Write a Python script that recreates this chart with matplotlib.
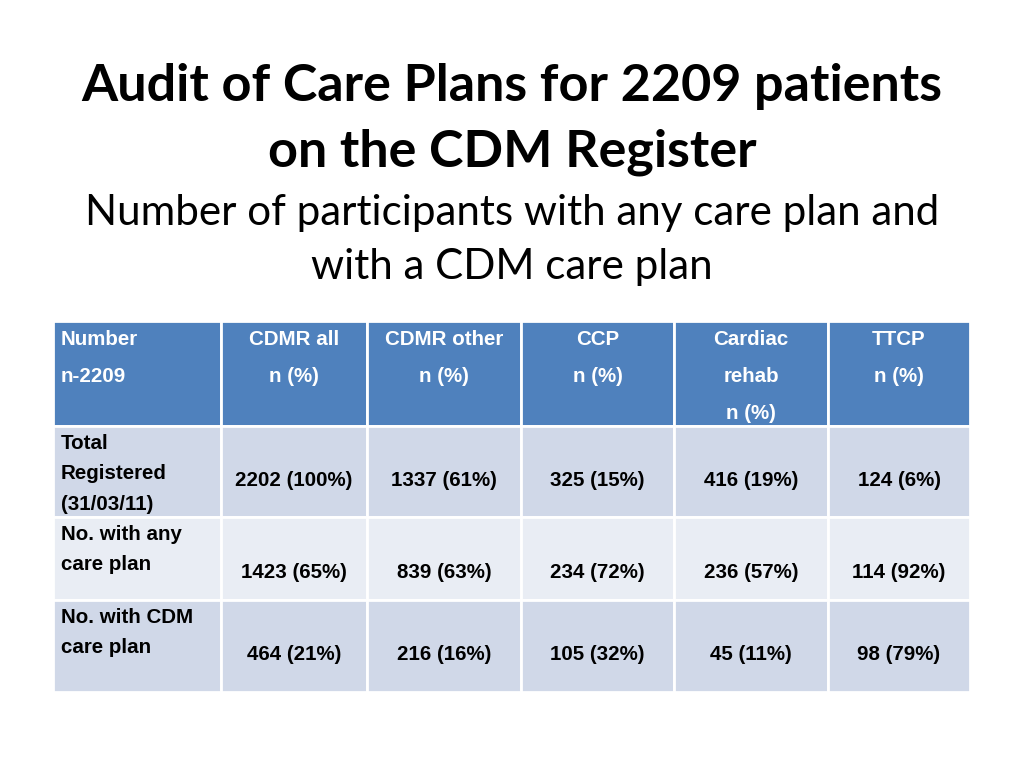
import matplotlib.pyplot as plt
from matplotlib.patches import Rectangle

title_lines = ["Audit of Care Plans for 2209 patients", "on the CDM Register"]
subtitle_lines = ["Number of participants with any care plan and", "with a CDM care plan"]

col_headers = ["Number\nn-2209", "CDMR all\nn (%)", "CDMR other\nn (%)", "CCP\nn (%)",
               "Cardiac\nrehab\nn (%)", "TTCP\nn (%)"]
row_labels = ["Total\nRegistered\n(31/03/11)", "No. with any\ncare plan", "No. with CDM\ncare plan"]
counts = [[2202, 1337, 325, 416, 124],
          [1423, 839, 234, 236, 114],
          [464, 216, 105, 45, 98]]
pcts = [[100, 61, 15, 19, 6],
        [65, 63, 72, 57, 92],
        [21, 16, 32, 11, 79]]

col_edges = [53, 221, 367, 521, 674, 828, 970]
row_edges = [321, 426, 517, 600, 692]
row_colors = ["#4F81BD", "#D0D8E8", "#E9EDF4", "#D0D8E8"]
# vertical position of the value text in each body row
value_y = [480, 573, 655]

cell_font = ["Liberation Sans", "DejaVu Sans"]

fig = plt.figure(figsize=(10.24, 7.68), dpi=100)
ax = fig.add_axes([0, 0, 1, 1])
ax.set_xlim(0, 1024)
ax.set_ylim(768, 0)
ax.axis("off")

for i, t in enumerate(title_lines):
    ax.text(512, 87 + i * 65, t, ha="center", va="center", fontsize=37.5,
            fontweight="bold", family="Lato")
for i, t in enumerate(subtitle_lines):
    ax.text(512, 213 + i * 54, t, ha="center", va="center", fontsize=30.3,
            family="Lato")

for r in range(4):
    for c in range(6):
        x0, x1 = col_edges[c], col_edges[c + 1]
        y0, y1 = row_edges[r], row_edges[r + 1]
        ax.add_patch(Rectangle((x0, y0), x1 - x0, y1 - y0, facecolor=row_colors[r],
                               edgecolor="white", linewidth=2))

for c, h in enumerate(col_headers):
    x0, x1 = col_edges[c], col_edges[c + 1]
    if c == 0:
        ax.text(x0 + 8, 330, h, ha="left", va="top", fontsize=14.8, color="white",
                fontweight="bold", family=cell_font, linespacing=2.2)
    else:
        ax.text((x0 + x1) / 2, 330, h, ha="center", va="top", fontsize=14.8,
                color="white", fontweight="bold", family=cell_font, linespacing=2.2)

for r, lab in enumerate(row_labels):
    y0 = row_edges[r + 1]
    ax.text(col_edges[0] + 8, y0 + 8, lab, ha="left", va="top", fontsize=14.8,
            fontweight="bold", family=cell_font, linespacing=1.75)
    for c in range(5):
        xm = (col_edges[c + 1] + col_edges[c + 2]) / 2
        ax.text(xm, value_y[r], f"{counts[r][c]} ({pcts[r][c]}%)", ha="center",
                va="center", fontsize=14.8, fontweight="bold", family=cell_font)

fig.savefig("out.png", dpi=100)
